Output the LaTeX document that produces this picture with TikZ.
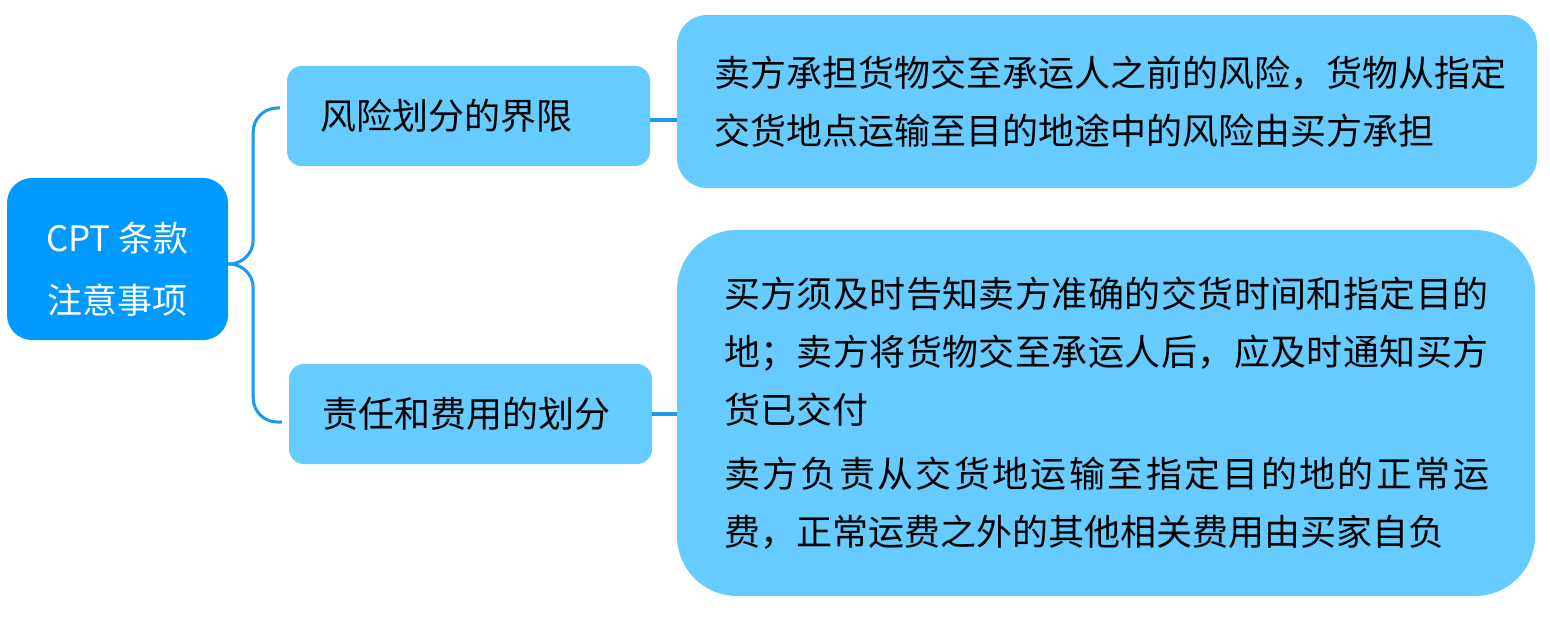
\documentclass[tikz,border=0pt]{standalone}
\usepackage{fontspec}
\setmainfont{Noto Sans CJK SC}
\usetikzlibrary{positioning}

\definecolor{rootblue}{HTML}{0099FF}
\definecolor{topicblue}{HTML}{66CCFF}
\definecolor{linkblue}{HTML}{1A9BF0}

\begin{document}
\begin{tikzpicture}[x=1pt,y=-1pt,
  rootbox/.style={fill=rootblue, rounded corners=25pt, text=white, minimum width=221pt, minimum height=162pt, align=center, font=\fontsize{35}{62}\selectfont},
  topicbox/.style={fill=topicblue, rounded corners=15pt, minimum height=100pt, text width=297pt, inner xsep=33pt, align=left, font=\fontsize{36}{58}\selectfont},
  leafbox/.style={fill=topicblue, align=left, font=\fontsize{36}{58}\selectfont},
  link/.style={draw=linkblue, line width=3pt}]
  \useasboundingbox (0,0) rectangle (1550,620);

  \node[rootbox] (root) at (117.5,259) {\rule{0pt}{49pt}CPT 条款\\注意事项};

  \node[topicbox] (risk) at (468.5,116) {风险划分的界限};
  \node[topicbox] (duty) at (470.5,414) {责任和费用的划分};

  \node[leafbox, rounded corners=30pt, minimum width=860pt, minimum height=173pt, text width=800pt, inner xsep=30pt] (riskleaf) at (1107,101.5)
    {\hspace*{7pt}卖方承担货物交至承运人之前的风险，货物从指定\\\hspace*{7pt}交货地点运输至目的地途中的风险由买方承担};
  \node[leafbox, rounded corners=60pt, minimum width=858pt, minimum height=366pt, text width=770pt, inner xsep=44pt] (dutyleaf) at (1106,413)
    {\hspace*{3pt}{\addfontfeature{LetterSpace=1.2}买方须及时告知卖方准确的交货时间和指定目的}\\
     \hspace*{3pt}{\addfontfeature{LetterSpace=1.2}地；卖方将货物交至承运人后，应及时通知买方}\\
     \hspace*{3pt}货已交付\\[6pt]
     \hspace*{3pt}{\addfontfeature{LetterSpace=6.6}卖方负责从交货地运输至指定目的地的正常运}\\
     \hspace*{3pt}费，正常运费之外的其他相关费用由买家自负};

  % bracket from the root to both topics
  \coordinate (fork) at ([yshift=-5pt]root.east);
  \draw[link, rounded corners=24pt] (fork) -- ++(25,0) |- ([shift={(-7pt,8pt)}]risk.west);
  \draw[link, rounded corners=24pt] (fork) -- ++(25,0) |- ([shift={(-7pt,-8pt)}]duty.west);

  \coordinate (riskout) at ([yshift=-4pt]risk.east);
  \draw[link, line width=4pt] (riskout) -- (riskout -| riskleaf.west);
  \draw[link, line width=4pt] (duty.east) -- (duty.east -| dutyleaf.west);
\end{tikzpicture}
\end{document}
